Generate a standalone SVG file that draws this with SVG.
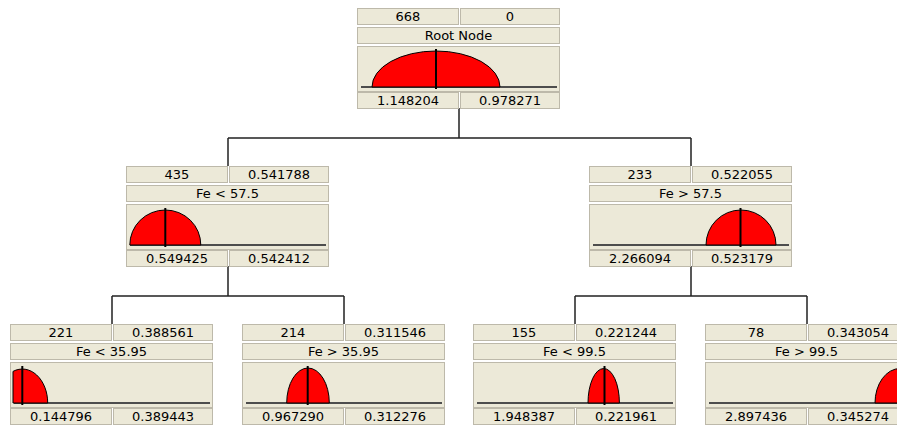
<svg xmlns="http://www.w3.org/2000/svg" width="897" height="428" viewBox="0 0 897 428">
<style>
.c{fill:#ece9d8;stroke:#bdb9aa;stroke-width:1}
.t{font-family:"DejaVu Sans",sans-serif;font-size:13px;fill:#000;text-anchor:middle}
.bl{stroke:#4d4d4d;stroke-width:2}
.d{fill:#ff0000;stroke:#000;stroke-width:1}
.m{stroke:#000;stroke-width:2}
.k{fill:none;stroke:#222;stroke-width:1.5}
</style>
<defs>
<g id="frame">
<rect class="c" x="0.5" y="0.5" width="101" height="16"/>
<rect class="c" x="103.5" y="0.5" width="99" height="16"/>
<rect class="c" x="0.5" y="19.5" width="202" height="16"/>
<rect class="c" x="0.5" y="38.5" width="202" height="45"/>
<rect class="c" x="0.5" y="84.5" width="101" height="16"/>
<rect class="c" x="103.5" y="84.5" width="99" height="16"/>
<line class="bl" x1="4" y1="79" x2="200" y2="79"/>
</g>
</defs>
<rect width="897" height="428" fill="#fff"/>
<g id="connectors" class="k">
<path d="M459,108 V138 M228,138 H691 M228,138 V166 M691,138 V166"/>
<path d="M228,266 V296 M112,296 H344 M112,296 V324 M344,296 V324"/>
<path d="M691,266 V296 M575,296 H807 M575,296 V324 M807,296 V324"/>
</g>
<g id="root" transform="translate(357,8)">
<use href="#frame"/>
<text class="t" x="51" y="13">668</text>
<text class="t" x="153" y="13">0</text>
<text class="t" x="101.5" y="32">Root Node</text>
<path class="d" d="M15,79 A64,36 0 0 1 143,79 Z"/>
<line class="m" x1="79" y1="41" x2="79" y2="81"/>
<text class="t" x="51" y="96.5">1.148204</text>
<text class="t" x="153" y="96.5">0.978271</text>
</g>
<g id="n-fe-lt-57" transform="translate(126,166)">
<use href="#frame"/>
<text class="t" x="51" y="13">435</text>
<text class="t" x="153" y="13">0.541788</text>
<text class="t" x="101.5" y="32">Fe &lt; 57.5</text>
<path class="d" d="M3.8,79 A35.5,35 0 0 1 74.8,79 Z"/>
<line class="m" x1="39.3" y1="42" x2="39.3" y2="81"/>
<text class="t" x="51" y="96.5">0.549425</text>
<text class="t" x="153" y="96.5">0.542412</text>
</g>
<g id="n-fe-gt-57" transform="translate(589,166)">
<use href="#frame"/>
<text class="t" x="51" y="13">233</text>
<text class="t" x="153" y="13">0.522055</text>
<text class="t" x="101.5" y="32">Fe &gt; 57.5</text>
<path class="d" d="M117,79 A35,35 0 0 1 187,79 Z"/>
<line class="m" x1="151.5" y1="42" x2="151.5" y2="81"/>
<text class="t" x="51" y="96.5">2.266094</text>
<text class="t" x="153" y="96.5">0.523179</text>
</g>
<g id="n-fe-lt-35" transform="translate(10,324)">
<use href="#frame"/>
<text class="t" x="51" y="13">221</text>
<text class="t" x="153" y="13">0.388561</text>
<text class="t" x="101.5" y="32">Fe &lt; 35.95</text>
<path class="d" d="M3,79 L3,47.4 A25.4,34 0 0 1 37.7,79 Z"/>
<line class="m" x1="12.3" y1="42" x2="12.3" y2="81"/>
<text class="t" x="51" y="96.5">0.144796</text>
<text class="t" x="153" y="96.5">0.389443</text>
</g>
<g id="n-fe-gt-35" transform="translate(242,324)">
<use href="#frame"/>
<text class="t" x="51" y="13">214</text>
<text class="t" x="153" y="13">0.311546</text>
<text class="t" x="101.5" y="32">Fe &gt; 35.95</text>
<path class="d" d="M44.7,79 A21.3,35 0 0 1 87.3,79 Z"/>
<line class="m" x1="65.7" y1="42" x2="65.7" y2="81"/>
<text class="t" x="51" y="96.5">0.967290</text>
<text class="t" x="153" y="96.5">0.312276</text>
</g>
<g id="n-fe-lt-99" transform="translate(473,324)">
<use href="#frame"/>
<text class="t" x="51" y="13">155</text>
<text class="t" x="153" y="13">0.221244</text>
<text class="t" x="101.5" y="32">Fe &lt; 99.5</text>
<path class="d" d="M115,79 A15.7,34.5 0 0 1 146.4,79 Z"/>
<line class="m" x1="131.5" y1="42" x2="131.5" y2="81"/>
<text class="t" x="51" y="96.5">1.948387</text>
<text class="t" x="153" y="96.5">0.221961</text>
</g>
<g id="n-fe-gt-99" transform="translate(705,324)">
<use href="#frame"/>
<text class="t" x="51" y="13">78</text>
<text class="t" x="153" y="13">0.343054</text>
<text class="t" x="101.5" y="32">Fe &gt; 99.5</text>
<path class="d" d="M170,79 A25,34.5 0 0 1 220,79 Z"/>
<line class="m" x1="195" y1="42" x2="195" y2="81"/>
<text class="t" x="51" y="96.5">2.897436</text>
<text class="t" x="153" y="96.5">0.345274</text>
</g>
</svg>
